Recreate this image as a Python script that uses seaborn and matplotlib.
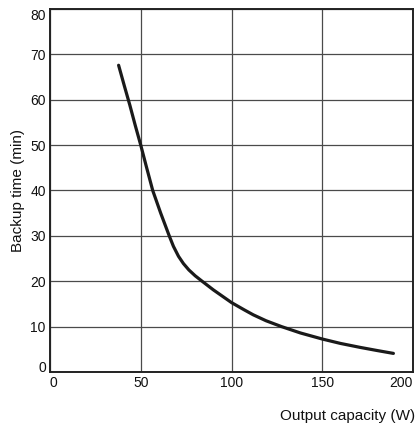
import pandas as pd
import matplotlib
matplotlib.use('Agg')
import matplotlib.pyplot as plt
import seaborn as sns

# values
output_w = [37.8, 41, 44, 47, 50, 53, 56.6, 61, 65.7, 68, 70.8, 73.5, 76.5, 80, 83.5, 90, 100, 107, 112, 119, 127.6, 138, 150, 160, 170.8, 180, 189.2]
backup_min = [67.6, 63.0, 58.8, 54.3, 50.0, 45.4, 40.0, 35.0, 30.0, 27.7, 25.5, 23.9, 22.5, 21.2, 20.1, 18.1, 15.3, 13.7, 12.6, 11.3, 10.0, 8.6, 7.27, 6.3, 5.43, 4.75, 4.1]
x_ticks = [0, 50, 100, 150, 200]
y_ticks = [0, 10, 20, 30, 40, 50, 60, 70, 80]

df = pd.DataFrame({'Output capacity (W)': output_w, 'Backup time (min)': backup_min})

sns.set_style('white')
plt.rcParams['font.family'] = ['Liberation Sans', 'DejaVu Sans']

fig = plt.figure(figsize=(4.18, 4.25), dpi=100)
ax = fig.add_axes([50 / 418, 53 / 425, 363 / 418, 363 / 425])

sns.lineplot(ax=ax, data=df, x='Output capacity (W)', y='Backup time (min)',
             color='#1a1a1a', linewidth=2.3, sort=False)

ax.set_xlim(0, 200)
ax.set_ylim(0, 80)
ax.set_xticks(x_ticks)
ax.set_yticks(y_ticks)
ax.grid(True, color='#4a4a4a', linewidth=0.9)
ax.set_axisbelow(True)
for s in ax.spines.values():
    s.set_color('#222222')
    s.set_linewidth(1.4)
ax.tick_params(length=0, labelsize=10, colors='#111111', pad=3)

# end labels sit inside the axis ends, as in the reference
xl = ax.get_xticklabels()
xl[0].set_horizontalalignment('left')
xl[-1].set_horizontalalignment('right')
yl = ax.get_yticklabels()
yl[0].set_verticalalignment('baseline')
yl[-1].set_verticalalignment('top')

ax.set_xlabel('')
ax.set_ylabel('Backup time (min)', fontsize=11, color='#111111', labelpad=4)
fig.text(415 / 418, 1 - 416 / 425, 'Output capacity (W)', ha='right', va='center',
         fontsize=11, color='#111111')

fig.savefig('out.png', dpi=100)
